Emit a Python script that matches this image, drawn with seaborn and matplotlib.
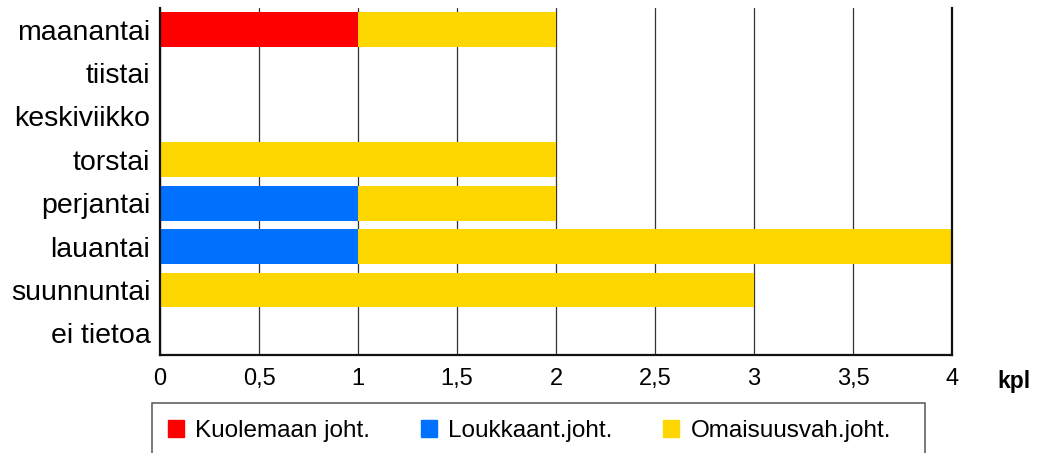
import matplotlib
matplotlib.use("Agg")
import matplotlib.pyplot as plt
from matplotlib.patches import Rectangle
import seaborn as sns
import pandas as pd

days = ['maanantai', 'tiistai', 'keskiviikko', 'torstai', 'perjantai',
        'lauantai', 'suunnuntai', 'ei tietoa']
kuolemaan = [1, 0, 0, 0, 0, 0, 0, 0]
loukkaant = [0, 0, 0, 0, 1, 1, 0, 0]
omaisuus = [1, 0, 0, 2, 1, 3, 3, 0]
series = ['Kuolemaan joht.', 'Loukkaant.joht.', 'Omaisuusvah.joht.']
colors = ['#ff0000', '#0070ff', '#ffd700']
xticks = [0, 0.5, 1, 1.5, 2, 2.5, 3, 3.5, 4]

sns.set_theme(style='white')
plt.rcParams['font.family'] = ['Liberation Sans', 'DejaVu Sans']
plt.rcParams['text.color'] = 'black'
plt.rcParams['xtick.color'] = 'black'
plt.rcParams['ytick.color'] = 'black'

df = pd.DataFrame({'day': days, 'k': kuolemaan, 'l': loukkaant, 'o': omaisuus})
df['c1'] = df['k']
df['c2'] = df['k'] + df['l']
df['c3'] = df['c2'] + df['o']

fig = plt.figure(figsize=(10.42, 4.53), dpi=100)
ax = fig.add_axes([160 / 1042, 1 - 355 / 453, 792 / 1042, 347 / 453])

# stacked: draw cumulative totals, largest first
for col, color in zip(['c3', 'c2', 'c1'], colors[::-1]):
    sns.barplot(data=df, y='day', x=col, order=days, color=color,
                orient='h', width=0.8, saturation=1, ax=ax, zorder=2,
                linewidth=0, edgecolor='none')

ax.set_xlim(0, 4)
ax.set_xticks(xticks)
ax.set_xticklabels([f'{t:g}'.replace('.', ',') for t in xticks], fontsize=17)
ax.tick_params(axis='y', labelsize=20.5, length=0, pad=7)
ax.tick_params(axis='x', length=0, pad=9.5)
ax.set_xlabel('')
ax.set_ylabel('')
ax.grid(axis='x', color='#333333', linewidth=0.9, zorder=0)
ax.set_axisbelow(True)
for side in ['left', 'bottom', 'right']:
    ax.spines[side].set_color('#111111')
    ax.spines[side].set_linewidth(1.6)
ax.spines['top'].set_visible(False)

fig.text(1014 / 1042, 1 - 388 / 453, 'kpl', fontsize=16.5, fontweight='bold',
         ha='center', va='baseline')

# legend box, cut off at the bottom of the figure
fig.patches.append(Rectangle((152 / 1042, -0.05), (925 - 152) / 1042, (453 - 403) / 453 + 0.05,
                             transform=fig.transFigure, fill=False,
                             edgecolor='#555555', linewidth=1.1))
handles = [Rectangle((0, 0), 1, 1, color=c) for c in colors]
fig.legend(handles, series, loc='center left', ncol=3, frameon=False,
           bbox_to_anchor=(168 / 1042, 1 - 431 / 453), fontsize=17.5,
           borderaxespad=0, borderpad=0,
           handlelength=0.66, handleheight=0.66, handletextpad=0.45,
           columnspacing=2.1)

fig.savefig('out.png', dpi=100)
